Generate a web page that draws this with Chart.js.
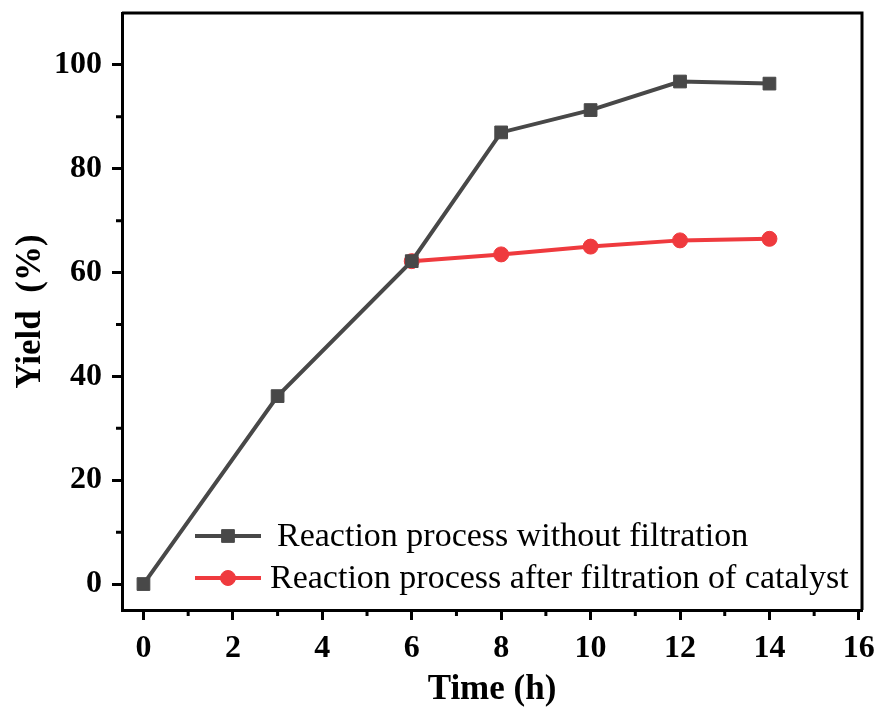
<!DOCTYPE html>
<html>
<head>
<meta charset="utf-8">
<script src="https://cdn.jsdelivr.net/npm/chart.js@4.4.1/dist/chart.umd.min.js"></script>
<style>
  html, body { margin: 0; padding: 0; background: #fff; }
  #wrap { width: 883px; height: 715px; }
</style>
</head>
<body>
<div id="wrap"><canvas id="grafico"></canvas></div>
<script>
// dados
const tempoSemFiltro = [0, 3, 6, 8, 10, 12, 14];
const rendimentoSemFiltro = [0, 36.2, 62.2, 87.0, 91.3, 96.8, 96.4];
const tempoComFiltro = [6, 8, 10, 12, 14];
const rendimentoComFiltro = [62.2, 63.5, 65.0, 66.2, 66.5];
const nomesSeries = ['Reaction process without filtration', 'Reaction process after filtration of catalyst'];
const ticksX = [0, 2, 4, 6, 8, 10, 12, 14, 16];
const ticksXMenores = [1, 3, 5, 7, 9, 11, 13, 15];
const ticksY = [0, 20, 40, 60, 80, 100];
const ticksYMenores = [10, 30, 50, 70, 90];

const corPreta = '#484848';
const corVermelha = '#ef3a3e';
const fonteSerif = '"Liberation Serif", "Times New Roman", serif';

function paraPontos(xs, ys) {
    return xs.map((x, i) => ({ x: x, y: ys[i] }));
}

// moldura, ticks menores e legenda
const extras = {
    id: 'extras',
    afterDraw(chart) {
        const ctx = chart.ctx;
        const area = chart.chartArea;
        const sx = chart.scales.x;
        const sy = chart.scales.y;
        ctx.save();
        ctx.strokeStyle = '#000';
        ctx.lineWidth = 3;
        ctx.beginPath();
        ctx.moveTo(area.left, area.top);
        ctx.lineTo(area.right, area.top);
        ctx.lineTo(area.right, area.bottom);
        ctx.stroke();

        ctx.lineWidth = 3;
        ctx.beginPath();
        ticksXMenores.forEach(v => {
            const px = sx.getPixelForValue(v);
            ctx.moveTo(px, area.bottom);
            ctx.lineTo(px, area.bottom + 6);
        });
        ticksYMenores.forEach(v => {
            const py = sy.getPixelForValue(v);
            ctx.moveTo(area.left, py);
            ctx.lineTo(area.left - 6, py);
        });
        ctx.stroke();

        // legenda
        const linhas = [
            { y: 536, x0: 195, x1: 261, xt: 277 },
            { y: 578, x0: 195, x1: 261, xt: 270 }
        ];
        chart.data.datasets.forEach((ds, i) => {
            const l = linhas[i];
            ctx.strokeStyle = ds.borderColor;
            ctx.lineWidth = ds.borderWidth;
            ctx.beginPath();
            ctx.moveTo(l.x0, l.y);
            ctx.lineTo(l.x1, l.y);
            ctx.stroke();
            ctx.fillStyle = ds.pointBackgroundColor;
            ctx.strokeStyle = ds.pointBackgroundColor;
            ctx.lineWidth = 1;
            Chart.helpers.drawPoint(ctx, {
                pointStyle: ds.pointStyle,
                radius: ds.pointRadius,
                rotation: 0,
                borderWidth: 1
            }, (l.x0 + l.x1) / 2, l.y);
            ctx.fillStyle = '#000';
            ctx.font = '34px ' + fonteSerif;
            ctx.textBaseline = 'middle';
            ctx.textAlign = 'left';
            ctx.fillText(ds.label, l.xt, l.y + 1);
        });
        ctx.restore();
    }
};

const ctx = document.getElementById('grafico').getContext('2d');
const chart = new Chart(ctx, {
    type: 'scatter',
    data: {
        datasets: [{
            label: nomesSeries[0],
            data: paraPontos(tempoSemFiltro, rendimentoSemFiltro),
            showLine: true,
            borderColor: corPreta,
            borderWidth: 4,
            pointStyle: 'rect',
            pointRadius: 9,
            pointBackgroundColor: corPreta,
            pointBorderColor: corPreta,
            pointBorderWidth: 1,
            clip: false
        }, {
            label: nomesSeries[1],
            data: paraPontos(tempoComFiltro, rendimentoComFiltro),
            showLine: true,
            borderColor: corVermelha,
            borderWidth: 4,
            pointStyle: 'circle',
            pointRadius: 7.5,
            pointBackgroundColor: corVermelha,
            pointBorderColor: corVermelha,
            pointBorderWidth: 1,
            clip: false
        }]
    },
    options: {
        responsive: true,
        maintainAspectRatio: false,
        animation: false,
        layout: { padding: { top: 13, right: 21, left: 0, bottom: 0 } },
        plugins: {
            legend: { display: false },
            tooltip: { enabled: false }
        },
        scales: {
            x: {
                type: 'linear',
                min: -0.48,
                max: 16.07,
                afterBuildTicks: s => { s.ticks = ticksX.map(v => ({ value: v })); },
                afterFit: s => { s.height = 105; s.paddingLeft = 0; s.paddingRight = 0; },
                border: { display: true, color: '#000', width: 3 },
                grid: { drawOnChartArea: false, drawTicks: true, tickLength: 10, tickWidth: 3, tickColor: '#000' },
                ticks: {
                    color: '#000',
                    padding: 10,
                    maxRotation: 0,
                    font: { family: fonteSerif, size: 32, weight: 'bold' }
                },
                title: {
                    display: true,
                    text: 'Time (h)',
                    color: '#000',
                    padding: { top: 0, bottom: 4 },
                    font: { family: fonteSerif, size: 35, weight: 'bold' }
                }
            },
            y: {
                type: 'linear',
                min: -5,
                max: 110,
                afterBuildTicks: s => { s.ticks = ticksY.map(v => ({ value: v })); },
                afterFit: s => { s.width = 122; s.paddingTop = 0; s.paddingBottom = 0; },
                border: { display: true, color: '#000', width: 3 },
                grid: { drawOnChartArea: false, drawTicks: true, tickLength: 10, tickWidth: 3, tickColor: '#000' },
                ticks: {
                    color: '#000',
                    padding: 10,
                    font: { family: fonteSerif, size: 32, weight: 'bold' }
                },
                title: {
                    display: true,
                    text: 'Yield  (%)',
                    color: '#000',
                    padding: { top: 10, bottom: 0 },
                    font: { family: fonteSerif, size: 35, weight: 'bold' }
                }
            }
        }
    },
    plugins: [extras]
});
</script>
</body>
</html>
